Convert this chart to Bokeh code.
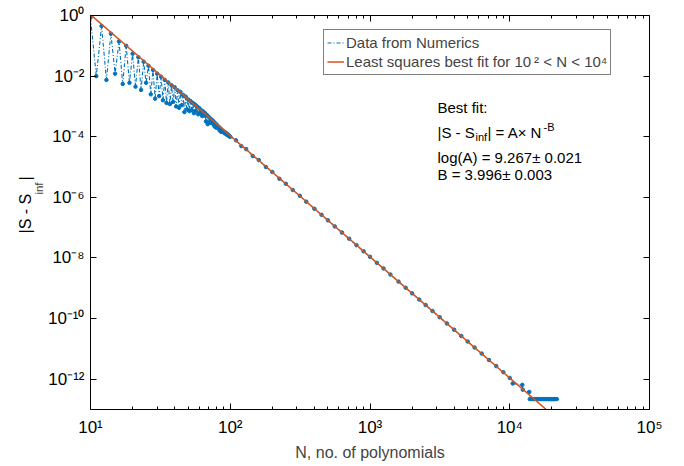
import math
from bokeh.plotting import figure
from bokeh.models import (FixedTicker, CustomJSTickFormatter, LogAxis, Legend,
                          LegendItem, Label, ColumnDataSource, Range1d, Title)
from bokeh.embed import file_html
from bokeh.resources import INLINE

# ---------------- data ----------------
n_noisy = list(range(10, 101))
s_noisy = [
    0.85, 0.010, 0.45, 0.0075, 0.25, 0.012, 0.14, 0.0055, 0.10, 0.006,      # 10-19
    0.055, 0.0045, 0.042, 0.0035, 0.030, 0.006, 0.022, 0.0025, 0.016, 0.0018,  # 20-29
    0.012, 0.0022, 0.0095, 0.0016, 0.0075, 0.0013, 0.0062, 0.0012, 0.0050, 0.0014,  # 30-39
    0.0043, 0.0010, 0.0034, 0.0009, 0.0030, 0.0011, 0.0024, 0.00065, 0.0021, 0.0008,  # 40-49
    0.0017, 0.0007, 0.0015, 0.00075, 0.0013, 0.0006, 0.00115, 0.0007, 0.0010, 0.00055,  # 50-59
    0.00088, 0.00060, 0.00075, 0.00048, 0.00068, 0.00050, 0.00060, 0.00032, 0.00052, 0.00026,  # 60-69
    0.00046, 0.00030, 0.00040, 0.00029, 0.00036, 0.00027, 0.00032, 0.00022, 0.00028, 0.00020,  # 70-79
    0.00025, 0.00023, 0.00019, 0.00021, 0.00016, 0.00019, 0.000145, 0.00017, 0.00015, 0.000145,  # 80-89
    0.00015, 0.00013, 0.00014, 0.000125, 0.00013, 0.000115, 0.00012, 0.000108, 0.00011, 0.000102,  # 90-99
    0.000100,  # 100
]
n_smooth = [110, 120, 130, 145, 160, 180, 200, 225, 250, 280, 315, 350, 400, 450,
            500, 560, 630, 710, 800, 900, 1000, 1120, 1250, 1400, 1600, 1800, 2000,
            2250, 2500, 2800, 3150, 3550, 4000, 4500, 5000, 5600, 6300, 7100, 8000,
            9000, 10000, 10500, 12300, 12400, 13800, 13900, 14500, 15000, 15500,
            16000, 16500, 17000, 17500, 18000, 18500, 19000, 19500, 20000, 20500,
            21000, 21700]
s_smooth = [7.6e-5, 4.9e-5, 3.9e-5, 2.3e-5, 1.7e-5, 1.0e-5, 6.9e-6, 4.1e-6, 2.8e-6,
            1.75e-6, 1.12e-6, 7.2e-7, 4.2e-7, 2.65e-7, 1.74e-7, 1.10e-7, 6.9e-8,
            4.3e-8, 2.65e-8, 1.66e-8, 1.09e-8, 6.9e-9, 4.5e-9, 2.84e-9, 1.66e-9,
            1.04e-9, 6.8e-10, 4.26e-10, 2.8e-10, 1.78e-10, 1.11e-10, 6.9e-11, 4.3e-11,
            2.67e-11, 1.75e-11, 1.11e-11, 7.0e-12, 4.3e-12, 2.7e-12, 1.7e-12, 1.1e-12,
            7.2e-13, 6.5e-13, 4.5e-13, 3.8e-13, 2.2e-13, 2.2e-13, 2.2e-13, 2.2e-13,
            2.2e-13, 2.2e-13, 2.2e-13, 2.2e-13, 2.2e-13, 2.2e-13, 2.2e-13, 2.2e-13,
            2.2e-13, 2.2e-13, 2.2e-13, 2.2e-13]

fit_lnA = 9.267
fit_B = 3.996
fit_n = [10, 20000]

x_major = [10, 100, 1000, 10000, 100000]
x_minor = [m * d for d in (10, 100, 1000, 10000) for m in range(2, 10)]
y_major = [1e-12, 1e-10, 1e-8, 1e-6, 1e-4, 1e-2, 1]

BLUE = "#0072BD"
ORANGE = "#D95319"
FONT = "Liberation Sans"
NB = "\u00a0"

N = n_noisy + n_smooth
S = s_noisy + s_smooth
src = ColumnDataSource(dict(n=N, s=S))
fit_src = ColumnDataSource(dict(n=fit_n, s=[math.exp(fit_lnA) * v ** (-fit_B) for v in fit_n]))

# ---------------- figure ----------------
p = figure(x_axis_type="log", y_axis_type="log",
           x_range=Range1d(10, 1e5), y_range=Range1d(1e-13, 1),
           frame_width=559, frame_height=394,
           min_border_left=90, min_border_top=15, min_border_right=33, min_border_bottom=55,
           output_backend="svg", toolbar_location=None)
p.xgrid.visible = False
p.ygrid.visible = False
p.outline_line_color = None
p.background_fill_color = "white"
p.border_fill_color = "white"

sup = """
const sup = {'0':'\u2070','1':'\u00b9','2':'\u00b2','3':'\u00b3','4':'\u2074','5':'\u2075',
             '6':'\u2076','7':'\u2077','8':'\u2078','9':'\u2079','-':'\u207b'};
const e = Math.round(Math.log10(tick));
return '10' + String(e).split('').map(c => sup[c]).join('');
"""
fmt = CustomJSTickFormatter(code=sup)
blank = CustomJSTickFormatter(code="return ' ';")


def style_axis(ax, ticker, labels=True):
    ax.ticker = ticker
    ax.axis_line_color = "black"
    ax.axis_line_width = 1
    ax.major_tick_line_color = "black"
    ax.minor_tick_line_color = "black"
    ax.major_tick_in = 6
    ax.major_tick_out = 0
    ax.minor_tick_in = 3
    ax.minor_tick_out = 0
    ax.major_label_text_font = FONT
    ax.major_label_text_color = "black"
    if labels:
        ax.formatter = fmt
        ax.major_label_text_font_size = "17px"
    else:
        ax.formatter = blank
        ax.major_label_text_font_size = "1px"
        ax.major_label_standoff = 0


xt = FixedTicker(ticks=x_major, minor_ticks=x_minor)
yt = FixedTicker(ticks=y_major, minor_ticks=[])
style_axis(p.xaxis[0], xt)
style_axis(p.yaxis[0], yt)
p.xaxis[0].major_label_standoff = 8
p.yaxis[0].major_label_standoff = 6
p.xaxis[0].axis_label = "N, no. of polynomials"
p.xaxis[0].axis_label_text_font = FONT
p.xaxis[0].axis_label_text_font_style = "normal"
p.xaxis[0].axis_label_text_font_size = "16px"
p.xaxis[0].axis_label_standoff = 4

# y axis label: subscript part as the axis label, main part as a side title
ya = p.yaxis[0]
ya.axis_label = NB * 15 + "inf"
ya.axis_label_text_font = FONT
ya.axis_label_text_font_style = "normal"
ya.axis_label_text_font_size = "11.5px"
ya.axis_label_standoff = 0

ylab = Title(text="|S - S" + NB * 3 + "|", align="left", offset=176, standoff=-8,
             text_font=FONT, text_font_size="16px", text_font_style="normal",
             text_color="black")
p.add_layout(ylab, "left")

top_ax = LogAxis()
right_ax = LogAxis()
style_axis(top_ax, FixedTicker(ticks=x_major, minor_ticks=x_minor), labels=False)
style_axis(right_ax, FixedTicker(ticks=y_major, minor_ticks=[]), labels=False)
p.add_layout(top_ax, "above")
p.add_layout(right_ax, "right")

# data series
r_line = p.line("n", "s", source=src, line_color=BLUE, line_width=1.1, line_dash="4 2 1 2")
r_pts = p.scatter("n", "s", source=src, size=3.5, color=BLUE)
r_fit = p.line("n", "s", source=fit_src, line_color=ORANGE, line_width=1.5)

legend = Legend(items=[
    LegendItem(label="Data from Numerics", renderers=[r_line]),
    LegendItem(label="Least squares best fit for 10\u2009\u00b2 < N < 10\u2074", renderers=[r_fit]),
], location=(233, 334))
legend.label_text_font = FONT
legend.label_text_font_size = "15px"
legend.border_line_color = "black"
legend.border_line_width = 1
legend.padding = 3
legend.spacing = 0
legend.margin = 0
legend.glyph_width = 17
legend.glyph_height = 19
legend.label_height = 19
legend.label_standoff = 2
legend.background_fill_alpha = 1
p.add_layout(legend, "center")


# ---------------- text annotations (frame-relative pixel positions) ----------------
def lab(text, x, y, size="15px"):
    p.add_layout(Label(text=text, x=x, y=y, x_units="screen", y_units="screen",
                       text_font=FONT, text_font_size=size, text_color="black",
                       text_baseline="alphabetic", text_align="left"))


L = 347
lab("Best fit:", L, 409 - 107)
lab("|S - S", L, 409 - 132)
lab("inf", L + 38, 409 - 136, "11px")
lab("| = A\u00d7 N", L + 50, 409 - 132)
lab("-B", L + 106, 409 - 126, "11px")
lab("log(A) = 9.267\u00b1 0.021", L, 409 - 157)
lab("B = 3.996\u00b1 0.003", L, 409 - 174)

open("out.html", "w").write(file_html(p, INLINE))
